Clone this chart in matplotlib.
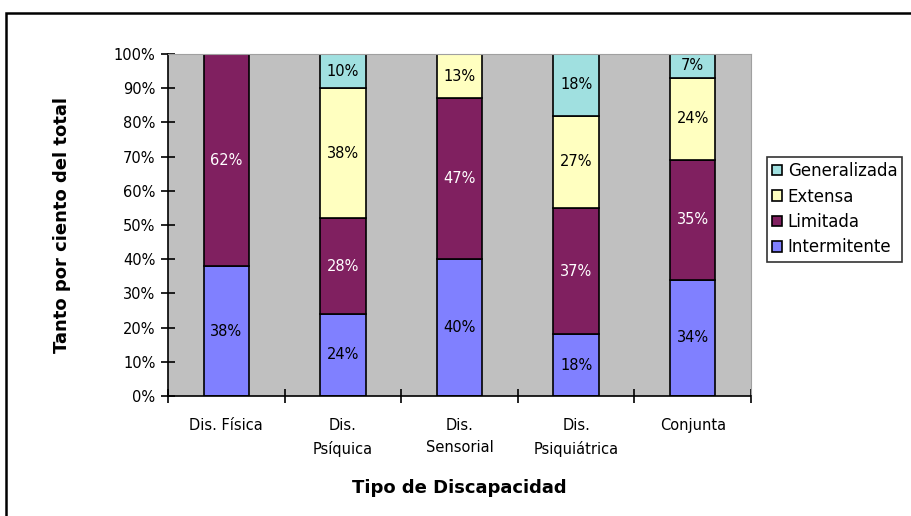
#!/usr/bin/env python3

import matplotlib
matplotlib.use('Agg')

import matplotlib.pyplot as plt
from matplotlib.patches import Rectangle
import numpy as np

categories = ['Dis. Física', 'Dis.\nPsíquica', 'Dis.\nSensorial',
              'Dis.\nPsiquiátrica', 'Conjunta']

intermitente = [38, 24, 40, 18, 34]
limitada = [62, 28, 47, 37, 35]
extensa = [0, 38, 13, 27, 24]
generalizada = [0, 10, 0, 18, 7]

series = [
    ('Intermitente', intermitente, '#8080FF', 'black'),
    ('Limitada', limitada, '#802060', 'white'),
    ('Extensa', extensa, '#FFFFC0', 'black'),
    ('Generalizada', generalizada, '#A0E0E0', 'black'),
]

fig = plt.figure(figsize=(9.12, 5.16), dpi=100)
ax = fig.add_axes([168 / 912, 1 - 396 / 516, 583 / 912, 342 / 516])
ax.set_facecolor('#C0C0C0')

x = np.arange(len(categories))
bottom = np.zeros(len(categories))
handles = []

for name, vals, color, tcolor in series:
    vals = np.array(vals, dtype=float)
    bars = ax.bar(x, vals, 0.39, bottom=bottom, color=color,
                  edgecolor='black', linewidth=1.2, label=name)
    handles.append(bars)
    for xi, b, v in zip(x, bottom, vals):
        if v > 0:
            ax.text(xi, b + v / 2, f'{int(v)}%', ha='center', va='center',
                    color=tcolor, fontsize=10.5)
    bottom += vals

ax.set_xlim(-0.5, len(categories) - 0.5)
ax.set_ylim(0, 100)
ax.set_yticks(range(0, 101, 10))
ax.set_yticklabels([f'{v}%' for v in range(0, 101, 10)], fontsize=10.5)
ax.set_xticks(x)
ax.set_xticklabels(categories, fontsize=10.5, linespacing=1.6)
ax.set_xticks(np.arange(-0.5, len(categories)), minor=True)
ax.tick_params(axis='x', which='major', length=0, pad=16)
ax.tick_params(axis='x', which='minor', direction='inout', length=10, width=1.2)
ax.tick_params(axis='y', direction='inout', length=10, width=1.2, pad=4)

for side in ('top', 'right'):
    ax.spines[side].set_color('#A0A0A0')
for side in ('left', 'bottom'):
    ax.spines[side].set_linewidth(1.2)

ax.set_xlabel('Tipo de Discapacidad', fontsize=13, fontweight='bold',
              labelpad=16)
ax.set_ylabel('Tanto por ciento del total', fontsize=13, fontweight='bold',
              labelpad=31)

leg = fig.legend(handles[::-1], [s[0] for s in series][::-1],
                 loc='upper left', bbox_to_anchor=(767 / 912, 1 - 157 / 516),
                 fontsize=12, frameon=True, fancybox=False, edgecolor='black',
                 handlelength=0.6, handleheight=0.6, handletextpad=0.35,
                 borderpad=0.3, labelspacing=0.45, borderaxespad=0)
leg.get_frame().set_linewidth(1.2)

fig.patches.append(Rectangle((6 / 912, -0.1), 1.0, 1.1 - 13 / 516,
                             transform=fig.transFigure, fill=False,
                             edgecolor='black', linewidth=1.8))

fig.savefig('out.png', dpi=100)
